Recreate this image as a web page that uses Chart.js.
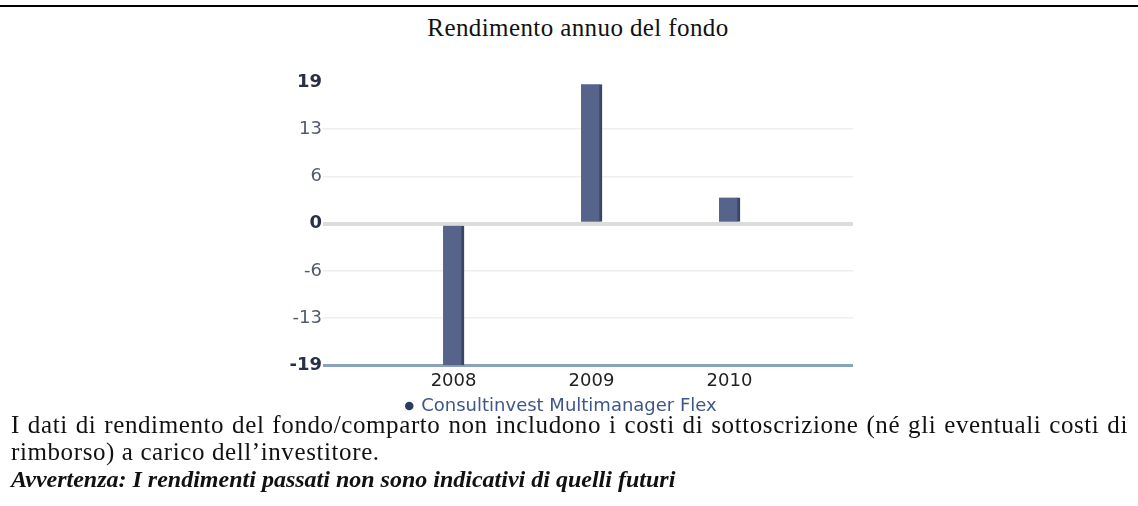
<!DOCTYPE html>
<html>
<head>
<meta charset="utf-8">
<script src="https://cdn.jsdelivr.net/npm/chart.js@4/dist/chart.umd.min.js"></script>
<style>
  html, body { margin: 0; padding: 0; background: #fff; width: 1138px; height: 506px; overflow: hidden; }
  #rule { position: absolute; left: 0; top: 5px; width: 1138px; height: 2px; background: #000; }
  #title { position: absolute; left: 378px; width: 400px; top: 13px; text-align: center; letter-spacing: 0.4px;
           font-family: "Liberation Serif", "Times New Roman", serif; font-size: 25px; line-height: 30px; color: #111; }
  #wrap { position: absolute; left: 0; top: 60px; width: 1138px; height: 365px; }
  .note { position: absolute; left: 11px; white-space: nowrap; font-family: "Liberation Serif", "Times New Roman", serif;
          font-size: 25px; line-height: 27px; color: #111; letter-spacing: 0.6px; }
  #n1 { top: 411px; width: 1117px; text-align: justify; text-align-last: justify; }
  #n2 { top: 438px; }
  #n3 { top: 466px; font-weight: bold; font-style: italic; font-size: 24px; letter-spacing: 0; }
</style>
</head>
<body>
<div id="rule"></div>
<div id="title">Rendimento annuo del fondo</div>
<div id="wrap"><canvas id="c"></canvas></div>
<div class="note" id="n1">I dati di rendimento del fondo/comparto non includono i costi di sottoscrizione (né gli eventuali costi di</div>
<div class="note" id="n2">rimborso) a carico dell’investitore.</div>
<div class="note" id="n3">Avvertenza: I rendimenti passati non sono indicativi di quelli futuri</div>
<script>
// ---- data ----
const years = [2008, 2009, 2010];
const returns = [-19, 18.7, 3.5];
const seriesName = "Consultinvest Multimanager Flex";
const yTickValues = [-19, -38/3, -19/3, 0, 19/3, 38/3, 19];
const boldTicks = [-19, 0, 19];

const tickVal = (c) => (c && c.tick && typeof c.tick.value === 'number') ? Math.round(c.tick.value) : null;

const ctx = document.getElementById('c');
new Chart(ctx, {
  type: 'bar',
  data: {
    datasets: [{
      label: seriesName,
      data: years.map((yr, i) => ({ x: yr, y: returns[i] })),
      backgroundColor: '#56648b',
      borderColor: '#3b4664',
      borderWidth: { right: 3, top: 0, left: 0, bottom: 0 },
      borderSkipped: false,
      barThickness: 21
    }]
  },
  options: {
    responsive: true,
    maintainAspectRatio: false,
    animation: false,
    layout: { padding: { left: 270, right: 285, top: 22, bottom: 0 } },
    plugins: {
      legend: {
        position: 'bottom',
        labels: {
          usePointStyle: true,
          pointStyle: 'circle',
          boxWidth: 6,
          boxHeight: 6,
          padding: 0,
          color: '#3e5788',
          font: { family: 'DejaVu Sans', size: 18 },
          generateLabels: (chart) => chart.data.datasets.map((ds, i) => ({
            text: ds.label, fillStyle: '#2b3a60', strokeStyle: '#2b3a60', lineWidth: 0,
            pointStyle: 'circle', datasetIndex: i, fontColor: '#3e5788'
          }))
        }
      },
      tooltip: { enabled: false }
    },
    scales: {
      x: {
        type: 'linear',
        offset: false,
        min: 2007.054,
        max: 2010.895,
        afterBuildTicks: (s) => { s.ticks = years.map(v => ({ value: v })); },
        ticks: { color: '#222', font: { family: 'DejaVu Sans', size: 18 }, padding: 5,
                 callback: (v) => String(v) },
        grid: { display: false, drawTicks: false },
        border: { display: false }
      },
      y: {
        min: -19,
        max: 19,
        afterBuildTicks: (s) => { s.ticks = yTickValues.map(v => ({ value: v })); },
        afterFit: (s) => { s.width = 53; },
        ticks: {
          padding: 1,
          callback: (v) => String(Math.round(v)),
          color: (c) => boldTicks.includes(tickVal(c)) ? '#283048' : '#525a6c',
          font: (c) => ({ family: 'DejaVu Sans', size: 18,
                          weight: boldTicks.includes(tickVal(c)) ? 'bold' : 'normal' })
        },
        grid: {
          drawTicks: false,
          color: (c) => {
            const v = tickVal(c);
            if (v === 0) return '#dcdcdc';
            if (v === -19) return '#8aa4be';
            if (v === 19) return 'rgba(0,0,0,0)';
            return '#eeeeee';
          },
          lineWidth: (c) => {
            const v = tickVal(c);
            if (v === 0) return 4;
            if (v === -19) return 3;
            return 1.5;
          }
        },
        border: { display: false }
      }
    }
  }
});
</script>
</body>
</html>
